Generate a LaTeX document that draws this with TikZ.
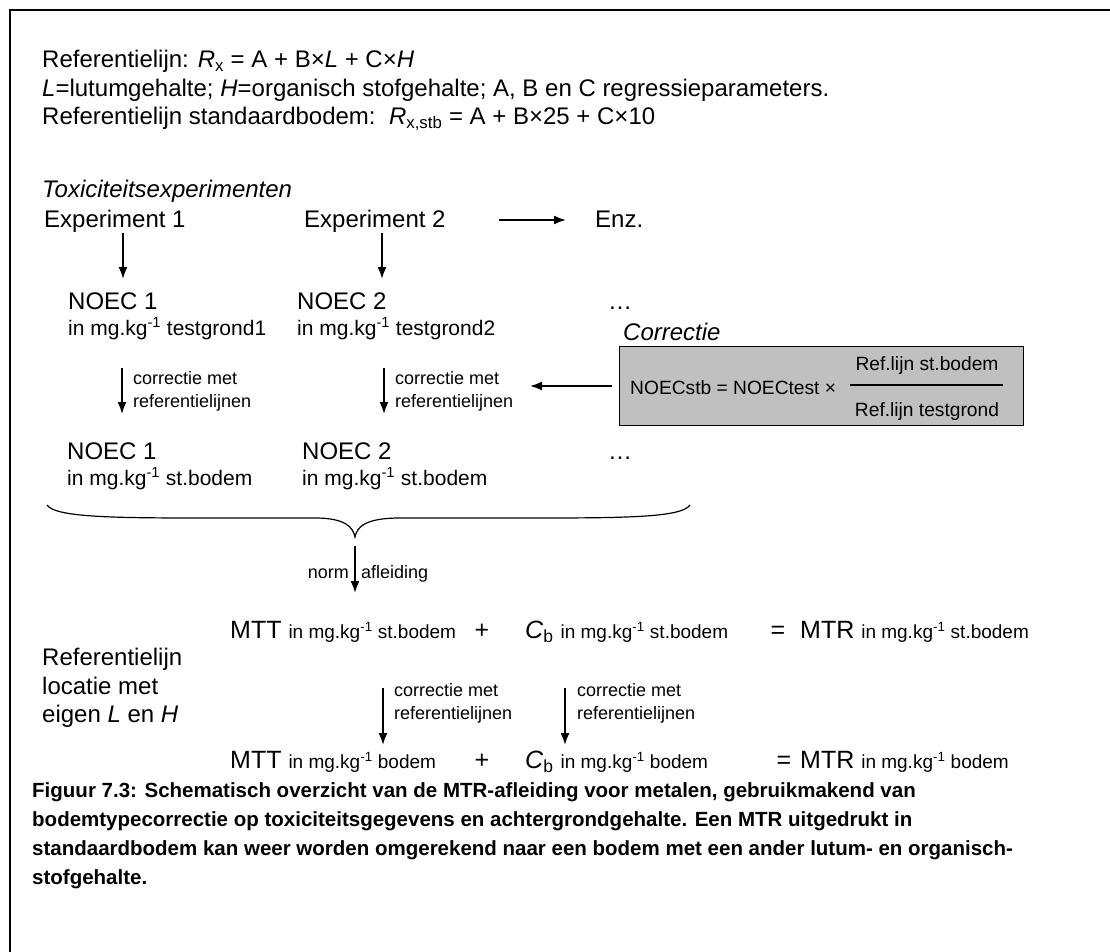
\documentclass[tikz,border=0pt]{standalone}
\usepackage{fontspec}
\setmainfont{Liberation Sans}
\usepackage{tikz}
\usetikzlibrary{arrows.meta}

\definecolor{boxgray}{RGB}{192,192,192}
\newcommand{\mgkg}[1]{{\fontsize{19}{23}\selectfont in mg.kg\textsuperscript{-1} #1}}

\tikzset{
  arr/.style={-{Latex[length=12pt,width=9pt]},line width=1.8pt},
  big/.style={font=\fontsize{24}{28.5}\selectfont},
  small/.style={font=\fontsize{21}{25}\selectfont},
  lbl/.style={font=\fontsize{18}{23}\selectfont},
  rowtxt/.style={font=\fontsize{25}{28}\selectfont},
  boxtxt/.style={font=\fontsize{19.2}{23}\selectfont},
  capt/.style={font=\bfseries\fontsize{20.5}{29}\selectfont},
}

\begin{document}
\begin{tikzpicture}[x=1pt,y=-1pt,every node/.style={inner sep=0pt,anchor=base west}]
\useasboundingbox (0,0) rectangle (1110,952);
\clip (0,0) rectangle (1110,952);
\draw [line width=1.5pt] (10,10) rectangle (1130,975);

% regression lines
\node [big] (ref) at (42,68) {Referentielijn: \textit{R}\textsubscript{x} = A + B×\textit{L} + C×\textit{H}};
\node [big] (def) at (42,96.5) {\textit{L}=lutumgehalte; \textit{H}=organisch stofgehalte; A, B en C regressieparameters.};
\node [big] (std) at (42,125) {Referentielijn standaardbodem:\ \ \textit{R}\textsubscript{x,stb} = A + B×25 + C×10};

% experiments
\node [big] (tox) at (42,197) {\itshape Toxiciteitsexperimenten};
\node [big] (exp1) at (44,227) {Experiment 1};
\node [big] (exp2) at (304,227) {Experiment 2};
\node [big] (enz) at (595,227) {Enz.};
\coordinate (e0) at (499,220); \coordinate (e9) at (566,220);
\draw [arr] (e0) -- (e9);

\coordinate (a1) at (123,233); \coordinate (b1) at (123,279);
\coordinate (a2) at (382,233); \coordinate (b2) at (382,279);
\draw [arr] (a1) -- (b1);
\draw [arr] (a2) -- (b2);

\node [big] (noecA1) at (68,309) {NOEC 1};
\node [small] (unitA1) at (68,335) {in mg.kg\textsuperscript{-1} testgrond1};
\node [big] (noecA2) at (297,309) {NOEC 2};
\node [small] (unitA2) at (297,335) {in mg.kg\textsuperscript{-1} testgrond2};
\node [big] (dotsA) at (608,309) {…};

% correction box
\node [big] (corr) at (623,340) {\itshape Correctie};
\node [draw, line width=1pt, fill=boxgray, anchor=north west, minimum width=404pt, minimum height=79pt] (box) at (619,346) {};
\node [boxtxt] (form) at (630,394) {NOECstb = NOECtest ×};
\node [boxtxt, anchor=base] (num) at (927,370) {Ref.lijn st.bodem};
\node [boxtxt, anchor=base] (den) at (927,416) {Ref.lijn testgrond};
\draw [line width=1.2pt] (850,385) -- (1003,385);
\coordinate (bx) at (612,386); \coordinate (bx2) at (530,386);
\draw [arr] (bx) -- (bx2);

\coordinate (c1) at (122,368); \coordinate (d1) at (122,414);
\coordinate (c2) at (384,368); \coordinate (d2) at (384,414);
\draw [arr] (c1) -- (d1);
\draw [arr] (c2) -- (d2);
\node [lbl, anchor=west, align=left] (lab1) at (133,391) {correctie met\\referentielijnen};
\node [lbl, anchor=west, align=left] (lab2) at (395,391) {correctie met\\referentielijnen};

\node [big] (noecB1) at (67,459) {NOEC 1};
\node [small] (unitB1) at (67,485) {in mg.kg\textsuperscript{-1} st.bodem};
\node [big] (noecB2) at (302,459) {NOEC 2};
\node [small] (unitB2) at (302,485) {in mg.kg\textsuperscript{-1} st.bodem};
\node [big] (dotsB) at (608,459) {…};

% brace
\coordinate (tip) at (355,537);
\draw [line width=1.2pt] (47,505) .. controls (55,517) and (110,518) .. (200,518) -- (315,518)
  .. controls (345,518) and (353,527) .. (tip)
  .. controls (357,527) and (365,518) .. (400,518) -- (540,518)
  .. controls (630,518) and (682,517) .. (690,505);

\coordinate (n1) at (355,546); \coordinate (n2) at (355,593);
\draw [arr] (n1) -- (n2);
\node [lbl, anchor=east] (norm) at (349,574) {norm};
\node [lbl, anchor=west] (afl) at (361,574) {afleiding};

% MTR rows
\node [rowtxt] (mtt1) at (230,638) {MTT \mgkg{st.bodem}};
\node [rowtxt, anchor=base] (plus1) at (482,638) {+};
\node [rowtxt] (cb1) at (525,638) {\textit{C}\textsubscript{b} \mgkg{st.bodem}};
\node [rowtxt, anchor=base] (eq1) at (778,638) {=};
\node [rowtxt] (mtr1) at (800,638) {MTR \mgkg{st.bodem}};

\node [big, anchor=west, align=left] (loc) at (42,688) {Referentielijn\\locatie met\\eigen \textit{L} en \textit{H}};

\coordinate (f1) at (383,688); \coordinate (g1) at (383,745);
\coordinate (f2) at (565,688); \coordinate (g2) at (565,745);
\draw [arr] (f1) -- (g1);
\draw [arr] (f2) -- (g2);
\node [lbl, anchor=west, align=left] (lab3) at (394,703) {correctie met\\referentielijnen};
\node [lbl, anchor=west, align=left] (lab4) at (577,703) {correctie met\\referentielijnen};

\node [rowtxt] (mtt2) at (230,768) {MTT \mgkg{bodem}};
\node [rowtxt, anchor=base] (plus2) at (482,768) {+};
\node [rowtxt] (cb2) at (525,768) {\textit{C}\textsubscript{b} \mgkg{bodem}};
\node [rowtxt, anchor=base] (eq2) at (784,768) {=};
\node [rowtxt] (mtr2) at (800,768) {MTR \mgkg{bodem}};

% caption
\node [capt, anchor=north west, align=left] (cap) at (32,782) {Figuur 7.3: Schematisch overzicht van de MTR-afleiding voor metalen, gebruikmakend van\\
bodemtypecorrectie op toxiciteitsgegevens en achtergrondgehalte. Een MTR uitgedrukt in\\
standaardbodem kan weer worden omgerekend naar een bodem met een ander lutum- en organisch-\\
stofgehalte.};

\end{tikzpicture}
\end{document}
